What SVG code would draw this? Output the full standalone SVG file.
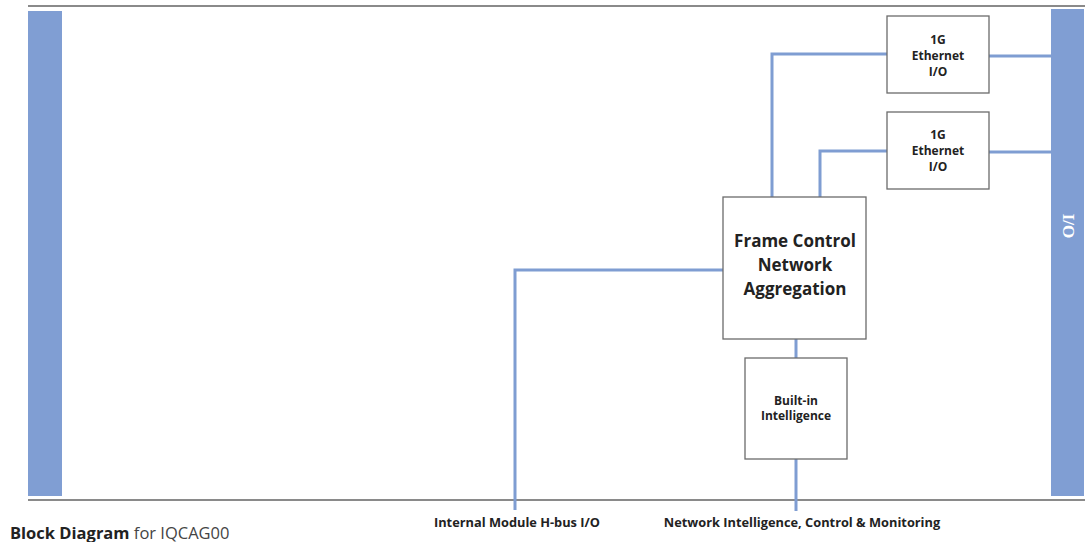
<svg xmlns="http://www.w3.org/2000/svg" width="1087" height="542" viewBox="0 0 1087 542">
  <style>
    .frame { stroke: #8a8a8a; stroke-width: 2; fill: none; }
    .bar { fill: #809ed3; }
    .box { fill: #ffffff; stroke: #6b6b6b; stroke-width: 1.3; }
    .wire { stroke: #7f9dd2; stroke-width: 3; fill: none; }
    .lbl { font-family: "Open Sans", "Noto Sans", sans-serif; font-weight: 700; fill: #222222; text-anchor: middle; }
    .small { font-size: 12px; }
    .big { font-size: 17px; }
    .foot { font-family: "Open Sans", "Noto Sans", sans-serif; font-size: 12.8px; font-weight: 700; fill: #222222; text-anchor: middle; }
  </style>

  <!-- module outline rails -->
  <line class="frame" x1="28" y1="6" x2="1085" y2="6"/>
  <line class="frame" x1="28" y1="500" x2="1085" y2="500"/>

  <!-- backplane and I/O bars -->
  <g id="backplane">
    <rect class="bar" x="28" y="11" width="34" height="485"/>
  </g>
  <g id="io-bar">
    <rect class="bar" x="1051" y="9" width="33" height="487"/>
    <text transform="translate(1063,226) rotate(90)" font-family="'Liberation Serif', serif" font-size="17" font-weight="700" fill="#ffffff" text-anchor="middle">I/O</text>
  </g>

  <!-- connectors -->
  <g id="connectors">
    <polyline class="wire" points="772,197 772,54 887,54"/>
    <line class="wire" x1="989" y1="56" x2="1051" y2="56"/>
    <polyline class="wire" points="820,197 820,151 887,151"/>
    <line class="wire" x1="989" y1="152" x2="1051" y2="152"/>
    <polyline class="wire" points="723,270 515,270 515,510"/>
    <line class="wire" x1="796" y1="339" x2="796" y2="358"/>
    <line class="wire" x1="796" y1="459" x2="796" y2="511"/>
  </g>

  <g id="eth1">
    <rect class="box" x="887" y="16" width="102" height="77"/>
    <text class="lbl small" x="938" y="44">1G</text>
    <text class="lbl small" x="938" y="60">Ethernet</text>
    <text class="lbl small" x="938" y="76">I/O</text>
  </g>

  <g id="eth2">
    <rect class="box" x="887" y="112" width="102" height="77"/>
    <text class="lbl small" x="938" y="139">1G</text>
    <text class="lbl small" x="938" y="155">Ethernet</text>
    <text class="lbl small" x="938" y="171">I/O</text>
  </g>

  <g id="frame-control">
    <rect class="box" x="723" y="197" width="143" height="142"/>
    <text class="lbl big" x="795" y="247">Frame Control</text>
    <text class="lbl big" x="795" y="271">Network</text>
    <text class="lbl big" x="795" y="295">Aggregation</text>
  </g>

  <g id="intelligence">
    <rect class="box" x="745" y="358" width="102" height="101"/>
    <text class="lbl small" x="796" y="405">Built-in</text>
    <text class="lbl small" x="796" y="420">Intelligence</text>
  </g>

  <!-- bottom edge labels -->
  <text class="foot" x="517" y="527">Internal Module H-bus I/O</text>
  <text class="foot" x="802" y="527">Network Intelligence, Control &amp; Monitoring</text>

  <text x="10" y="539" font-family="'Open Sans', 'Noto Sans', sans-serif" font-size="16.5" fill="#444444"><tspan font-weight="700" fill="#222222">Block Diagram</tspan> for IQCAG00</text>
</svg>
